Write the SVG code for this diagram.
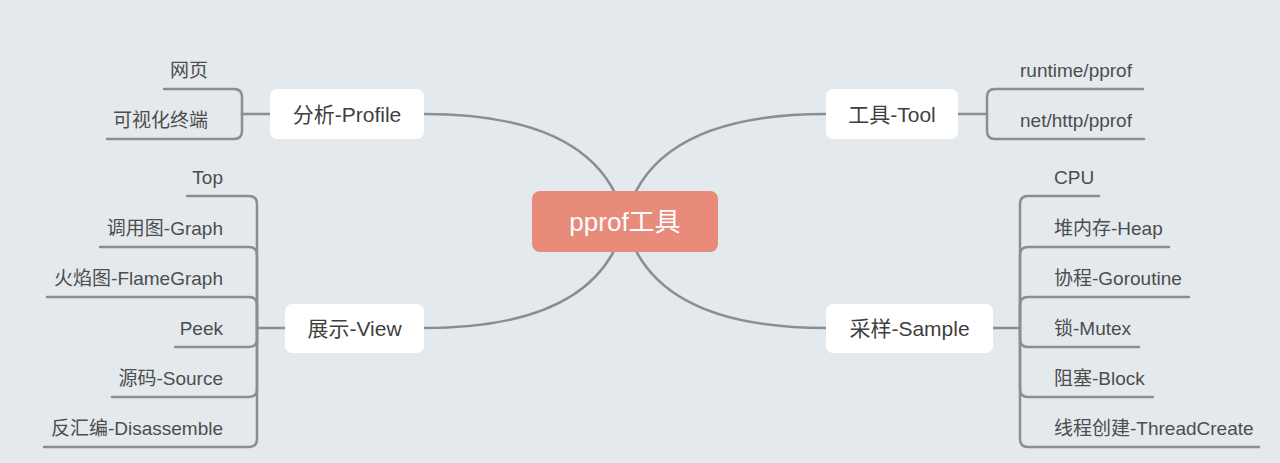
<svg xmlns="http://www.w3.org/2000/svg" width="1280" height="463" viewBox="0 0 1280 463">
<style>
.ln{fill:none;stroke:#8a8e93;stroke-width:2.5;stroke-linecap:round;stroke-linejoin:round}
.nb{fill:#ffffff}
.nt{font-family:"Liberation Sans","Noto Sans CJK SC",sans-serif;font-size:21px;fill:#3f3f3f;text-anchor:middle}
.ct{font-family:"Liberation Sans","Noto Sans CJK SC",sans-serif;font-size:26px;fill:#ffffff;text-anchor:middle}
.lt{font-family:"Liberation Sans","Noto Sans CJK SC",sans-serif;font-size:19px;fill:#4d4d4d}
.r{text-anchor:end}
.s{text-anchor:start}
</style>
<rect x="0" y="0" width="1280" height="463" fill="#e3e9ed"/>
<g id="connectors">
<path class="ln" d="M625 221 Q600 114 424 114"/>
<path class="ln" d="M625 221 Q600 328 424 328"/>
<path class="ln" d="M625 221 Q650 114 826 114"/>
<path class="ln" d="M625 221 Q650 328 826 328"/>
<!-- Profile branch -->
<path class="ln" d="M270 114 H242"/>
<path class="ln" d="M242 114 V97 Q242 89 234 89 H164"/>
<path class="ln" d="M242 114 V131 Q242 139 234 139 H107"/>
<!-- Tool branch -->
<path class="ln" d="M958 114 H987"/>
<path class="ln" d="M987 114 V97 Q987 89 995 89 H1143"/>
<path class="ln" d="M987 114 V131 Q987 139 995 139 H1144"/>
<!-- View branch -->
<path class="ln" d="M285 328 H257"/>
<path class="ln" d="M257 328 V204 Q257 196 249 196 H187"/>
<path class="ln" d="M257 328 V255 Q257 247 249 247 H100"/>
<path class="ln" d="M257 328 V305 Q257 297 249 297 H47"/>
<path class="ln" d="M257 328 V339 Q257 347 249 347 H175"/>
<path class="ln" d="M257 328 V389 Q257 397 249 397 H112"/>
<path class="ln" d="M257 328 V439 Q257 447 249 447 H44"/>
<!-- Sample branch -->
<path class="ln" d="M993 328 H1020"/>
<path class="ln" d="M1020 328 V204 Q1020 196 1028 196 H1099"/>
<path class="ln" d="M1020 328 V255 Q1020 247 1028 247 H1169"/>
<path class="ln" d="M1020 328 V305 Q1020 297 1028 297 H1189"/>
<path class="ln" d="M1020 328 V339 Q1020 347 1028 347 H1139"/>
<path class="ln" d="M1020 328 V389 Q1020 397 1028 397 H1153"/>
<path class="ln" d="M1020 328 V439 Q1020 447 1028 447 H1259"/>
</g>
<g id="center">
<rect x="532" y="191" width="186" height="61" rx="8" fill="#e88b7a"/>
<text class="ct" x="625" y="230.5">pprof工具</text>
</g>
<g id="profile">
<rect class="nb" x="270" y="89" width="154" height="50" rx="7"/>
<text class="nt" x="347" y="121.5">分析-Profile</text>
</g>
<g id="tool">
<rect class="nb" x="826" y="89" width="132" height="50" rx="7"/>
<text class="nt" x="892" y="121.5">工具-Tool</text>
</g>
<g id="view">
<rect class="nb" x="285" y="304" width="139" height="49" rx="7"/>
<text class="nt" x="354.5" y="335.5">展示-View</text>
</g>
<g id="sample">
<rect class="nb" x="826" y="304" width="167" height="49" rx="7"/>
<text class="nt" x="909.5" y="335.5">采样-Sample</text>
</g>
<g id="profile-children">
<text class="lt r" x="208" y="77">网页</text>
<text class="lt r" x="208" y="127">可视化终端</text>
</g>
<g id="tool-children">
<text class="lt s" x="1020" y="77">runtime/pprof</text>
<text class="lt s" x="1020" y="127">net/http/pprof</text>
</g>
<g id="view-children">
<text class="lt r" x="223" y="184">Top</text>
<text class="lt r" x="223" y="235">调用图-Graph</text>
<text class="lt r" x="223" y="285">火焰图-FlameGraph</text>
<text class="lt r" x="223" y="335">Peek</text>
<text class="lt r" x="223" y="385">源码-Source</text>
<text class="lt r" x="223" y="435">反汇编-Disassemble</text>
</g>
<g id="sample-children">
<text class="lt s" x="1054" y="184">CPU</text>
<text class="lt s" x="1054" y="235">堆内存-Heap</text>
<text class="lt s" x="1054" y="285">协程-Goroutine</text>
<text class="lt s" x="1054" y="335">锁-Mutex</text>
<text class="lt s" x="1054" y="385">阻塞-Block</text>
<text class="lt s" x="1054" y="435">线程创建-ThreadCreate</text>
</g>
</svg>
